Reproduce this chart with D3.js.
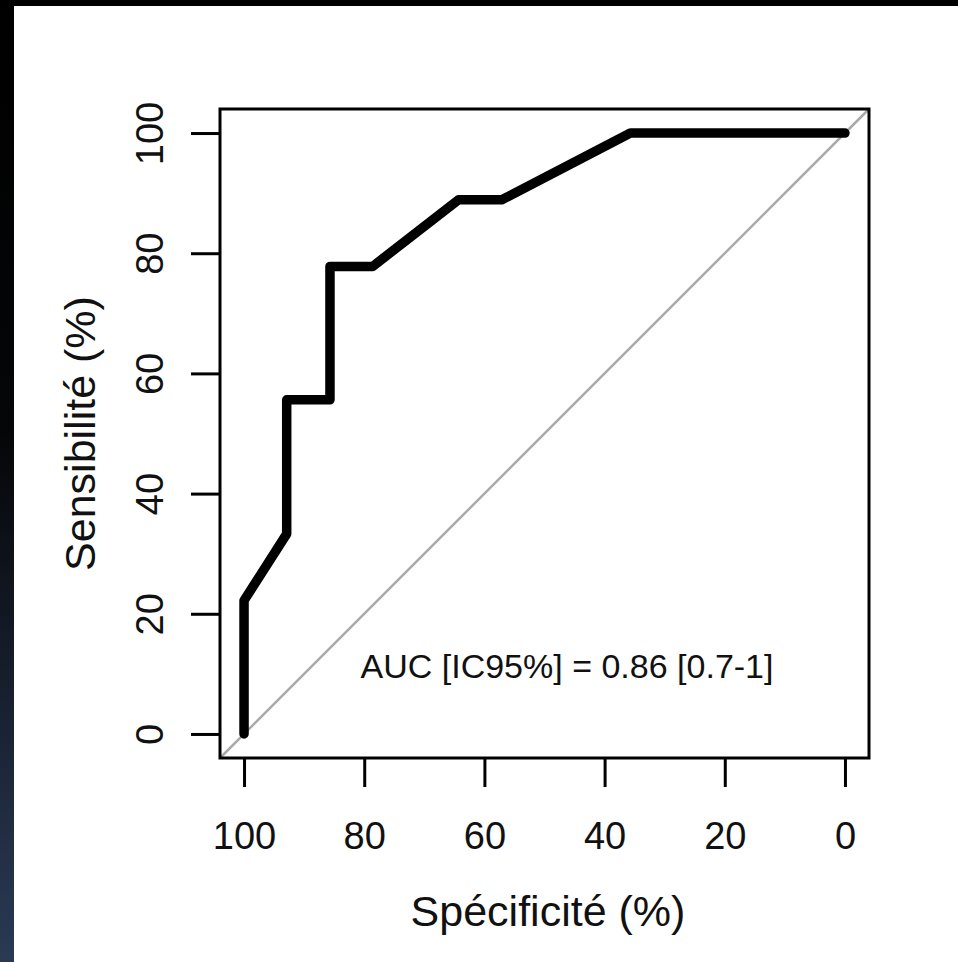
<!DOCTYPE html>
<html>
<head>
<meta charset="utf-8">
<script src="https://cdn.jsdelivr.net/npm/d3@7"></script>
<style>
  html, body { margin: 0; padding: 0; background: #ffffff; }
  svg { display: block; }
</style>
</head>
<body>
<script>
// Data (specificity %, sensitivity %)
const specificity = [100, 100, 92.9, 92.9, 85.7, 85.7, 78.6, 64.3, 57.1, 35.7, 0];
const sensitivity = [0, 22.2, 33.3, 55.6, 55.6, 77.8, 77.8, 88.9, 88.9, 100, 100];
const xTicks = [100, 80, 60, 40, 20, 0];
const yTicks = [0, 20, 40, 60, 80, 100];
const xLabel = "Spécificité (%)";
const yLabel = "Sensibilité (%)";
const aucText = "AUC [IC95%] = 0.86 [0.7-1]";

const W = 958, H = 962;
const svg = d3.select("body").append("svg").attr("width", W).attr("height", H);

// background with dark left/top edge
const defs = svg.append("defs");
const grad = defs.append("linearGradient").attr("id", "edge").attr("x1", 0).attr("y1", 0).attr("x2", 0).attr("y2", 1);
grad.append("stop").attr("offset", "0%").attr("stop-color", "#000000");
grad.append("stop").attr("offset", "45%").attr("stop-color", "#050608");
grad.append("stop").attr("offset", "100%").attr("stop-color", "#2a3a55");
svg.append("rect").attr("x", 0).attr("y", 0).attr("width", W).attr("height", H).attr("fill", "#ffffff");
svg.append("rect").attr("x", 0).attr("y", 0).attr("width", 14).attr("height", H).attr("fill", "url(#edge)");
svg.append("rect").attr("x", 0).attr("y", 0).attr("width", W).attr("height", 6).attr("fill", "#000000");

// frame
const fx0 = 220, fx1 = 869, fy0 = 109, fy1 = 758;
const ext = (fx1 - fx0) * 0.04 / 1.08;
const x = d3.scaleLinear().domain([100, 0]).range([fx0 + ext, fx1 - ext]);
const y = d3.scaleLinear().domain([0, 100]).range([fy1 - ext, fy0 + ext]);
const xf = d3.scaleLinear().domain([104, -4]).range([fx0, fx1]);
const yf = d3.scaleLinear().domain([-4, 104]).range([fy1, fy0]);

const font = "'Liberation Sans', Arial, Helvetica, sans-serif";

// diagonal reference line (sens = 100 - spec), clipped to frame
svg.append("line")
  .attr("x1", xf(104)).attr("y1", yf(-4))
  .attr("x2", xf(-4)).attr("y2", yf(104))
  .attr("stroke", "#aaaaaa").attr("stroke-width", 2.5);

// ROC curve
const line = d3.line().x((d, i) => x(specificity[i])).y((d, i) => y(sensitivity[i]));
svg.append("path")
  .datum(specificity)
  .attr("d", line)
  .attr("fill", "none")
  .attr("stroke", "#000000")
  .attr("stroke-width", 9.5)
  .attr("stroke-linejoin", "round")
  .attr("stroke-linecap", "round");

// frame box
svg.append("rect")
  .attr("x", fx0).attr("y", fy0).attr("width", fx1 - fx0).attr("height", fy1 - fy0)
  .attr("fill", "none").attr("stroke", "#000000").attr("stroke-width", 3);

// x axis
const xAxis = d3.axisBottom(x).tickValues(xTicks).tickSize(29).tickPadding(12).tickFormat(d3.format("d"));
const gx = svg.append("g").attr("transform", `translate(0,${fy1})`).call(xAxis);
gx.select(".domain").remove();
gx.selectAll(".tick line").attr("stroke", "#000").attr("stroke-width", 3);
gx.selectAll(".tick text").attr("font-family", font).attr("font-size", 38).attr("fill", "#111")
  .attr("dy", null).attr("y", 91);

// y axis
const yAxis = d3.axisLeft(y).tickValues(yTicks).tickSize(29).tickFormat(d3.format("d"));
const gy = svg.append("g").attr("transform", `translate(${fx0},0)`).call(yAxis);
gy.select(".domain").remove();
gy.selectAll(".tick line").attr("stroke", "#000").attr("stroke-width", 3);
gy.selectAll(".tick text")
  .attr("font-family", font).attr("font-size", 38).attr("fill", "#111")
  .attr("x", null).attr("dy", null)
  .attr("text-anchor", "middle")
  .attr("transform", "translate(-57,0) rotate(-90)");

// axis labels
svg.append("text").attr("x", 548).attr("y", 926)
  .attr("text-anchor", "middle").attr("font-family", font).attr("font-size", 43).attr("fill", "#111")
  .text(xLabel);
svg.append("text")
  .attr("transform", `translate(95,${(fy0 + fy1) / 2}) rotate(-90)`)
  .attr("text-anchor", "middle").attr("font-family", font).attr("font-size", 43).attr("fill", "#111")
  .text(yLabel);

// AUC annotation
svg.append("text").attr("x", 567).attr("y", 678)
  .attr("text-anchor", "middle").attr("font-family", font).attr("font-size", 34).attr("fill", "#111")
  .text(aucText);
</script>
</body>
</html>
